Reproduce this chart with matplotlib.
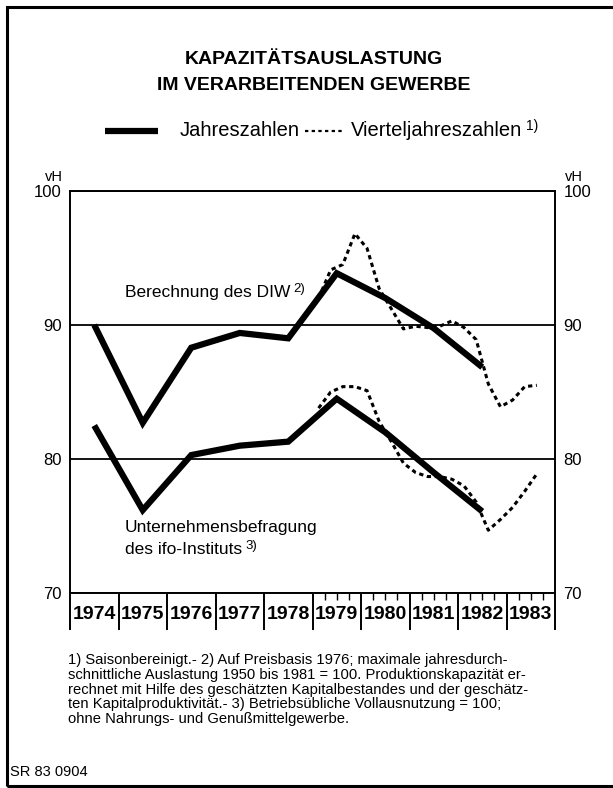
import matplotlib
matplotlib.use("Agg")
import matplotlib.pyplot as plt
from matplotlib.lines import Line2D
from matplotlib.patches import Rectangle

# Schrift: Arial-artige Grotesk
plt.rcParams['font.family'] = ['Liberation Sans', 'DejaVu Sans']

# Jahreszahlen (vH)
years = [1974, 1975, 1976, 1977, 1978, 1979, 1980, 1981, 1982]
diw_year = [90.0, 82.7, 88.3, 89.4, 89.0, 93.85, 92.0, 89.75, 86.85]
ifo_year = [82.5, 76.2, 80.3, 81.0, 81.3, 84.5, 82.0, 79.0, 76.1]

# Vierteljahreszahlen, 1979 I bis 1983 III
quarter_years = [1979] * 4 + [1980] * 4 + [1981] * 4 + [1982] * 4 + [1983] * 3
quarter_nums = [1, 2, 3, 4] * 4 + [1, 2, 3]
diw_quarter = [92.0, 94.1, 94.5, 96.8,
               95.7, 92.7, 91.2, 89.7,
               89.9, 89.8, 89.9, 90.3,
               89.8, 88.9, 85.6, 83.9,
               84.4, 85.4, 85.5]
ifo_quarter = [83.8, 85.0, 85.4, 85.4,
               85.1, 82.8, 81.3, 79.7,
               79.0, 78.7, 78.7, 78.5,
               78.0, 76.8, 74.7, 75.5,
               76.4, 77.6, 78.9]

year_labels = ['1974', '1975', '1976', '1977', '1978',
               '1979', '1980', '1981', '1982', '1983']

x_year = [y + 0.5 for y in years]
x_quarter = [y + (q - 0.5) / 4 for y, q in zip(quarter_years, quarter_nums)]

fig = plt.figure(figsize=(6.13, 7.88), dpi=100)
ax = fig.add_axes([70 / 613, 1 - 593.3 / 788, 485 / 613, 402.6 / 788])


def sup(artist, label, size=9.5):
    # hochgestellte Fußnotenziffer direkt hinter einem Text
    ax.annotate(label, xy=(1, 0.75), xycoords=artist,
                xytext=(2.5, 0), textcoords='offset points',
                fontsize=size, va='center', ha='left',
                annotation_clip=False)


ax.plot(x_year, diw_year, color='black', lw=4.5, solid_joinstyle='miter',
        solid_capstyle='butt', zorder=3)
ax.plot(x_year, ifo_year, color='black', lw=4.5, solid_joinstyle='miter',
        solid_capstyle='butt', zorder=3)
ax.plot(x_quarter, diw_quarter, color='black', lw=2.2,
        linestyle=(0, (1.4, 1.2)), zorder=4)
ax.plot(x_quarter, ifo_quarter, color='black', lw=2.2,
        linestyle=(0, (1.4, 1.2)), zorder=4)

ax.set_xlim(1974, 1984)
ax.set_ylim(70, 100)

for s in ax.spines.values():
    s.set_linewidth(1.4)

# Gitter bei 80 und 90
ax.set_yticks([70, 80, 90, 100])
ax.yaxis.grid(True, color='black', lw=1.3)
ax.tick_params(axis='y', which='both', length=0, left=False, right=False,
               labelleft=True, labelright=True, labelsize=12, pad=6)

# Jahresfelder unter der Achse
ax.set_xticks(list(range(1974, 1985)))
ax.set_xticklabels([])
ax.tick_params(axis='x', which='major', direction='out', length=26.6,
               width=1.4)
ax.set_xticks([y + 0.5 for y in range(1974, 1984)], minor=True)
ax.set_xticklabels(year_labels, minor=True, fontsize=14, fontweight='bold')
ax.tick_params(axis='x', which='minor', length=0, pad=9.5)

# Quartalsstriche ab 1979
q_ticks = [y + k / 4 for y in range(1979, 1984) for k in (1, 2, 3)]
ax.vlines(q_ticks, -0.016, 0, transform=ax.get_xaxis_transform(),
          color='black', lw=1.0, clip_on=False)

# Beschriftungen im Diagramm
t = ax.text(1975.13, 92.4, 'Berechnung des DIW', fontsize=12.5, va='center')
sup(t, '2)')
ax.text(1975.13, 74.9, 'Unternehmensbefragung', fontsize=12.5, va='center')
t = ax.text(1975.13, 73.25, 'des ifo-Instituts', fontsize=12.5, va='center')
sup(t, '3)')

# vH-Angaben
fig.text(63 / 613, 1 - 177 / 788, 'vH', fontsize=10.5, ha='right', va='center')
fig.text(565 / 613, 1 - 177 / 788, 'vH', fontsize=10.5, ha='left', va='center')

# Titel
fig.text(314 / 613, 1 - 59 / 788, 'KAPAZITÄTSAUSLASTUNG', fontsize=14,
         fontweight='bold', ha='center', va='center')
fig.text(314 / 613, 1 - 85 / 788, 'IM VERARBEITENDEN GEWERBE', fontsize=14,
         fontweight='bold', ha='center', va='center')

# Legende
ly = 1 - 131 / 788
fig.add_artist(Line2D([105 / 613, 158 / 613], [ly, ly], color='black',
                      lw=4.5, solid_capstyle='butt'))
fig.text(180 / 613, ly, 'Jahreszahlen', fontsize=14.5, va='center')
fig.add_artist(Line2D([305 / 613, 343 / 613], [ly, ly], color='black',
                      lw=1.6, linestyle=(0, (1.5, 1.5))))
t = fig.text(351 / 613, ly, 'Vierteljahreszahlen', fontsize=14.5, va='center')
sup(t, '1)', size=10)

# Fußnoten
notes = [
    '1) Saisonbereinigt.- 2) Auf Preisbasis 1976; maximale jahresdurch-',
    'schnittliche Auslastung 1950 bis 1981 = 100. Produktionskapazität er-',
    'rechnet mit Hilfe des geschätzten Kapitalbestandes und der geschätz-',
    'ten Kapitalproduktivität.- 3) Betriebsübliche Vollausnutzung = 100;',
    'ohne Nahrungs- und Genußmittelgewerbe.',
]
for i, line in enumerate(notes):
    fig.text(68 / 613, 1 - (660 + i * 14.8) / 788, line, fontsize=10.6,
             va='center')

fig.text(10 / 613, 1 - 772 / 788, 'SR 83 0904', fontsize=10.5, va='center')

# Rahmen
fig.add_artist(Rectangle((7 / 613, 1 - 786 / 788), 620 / 613, 779 / 788,
                         fill=False, lw=2.2, edgecolor='black',
                         transform=fig.transFigure))

fig.savefig('out.png', dpi=100)
